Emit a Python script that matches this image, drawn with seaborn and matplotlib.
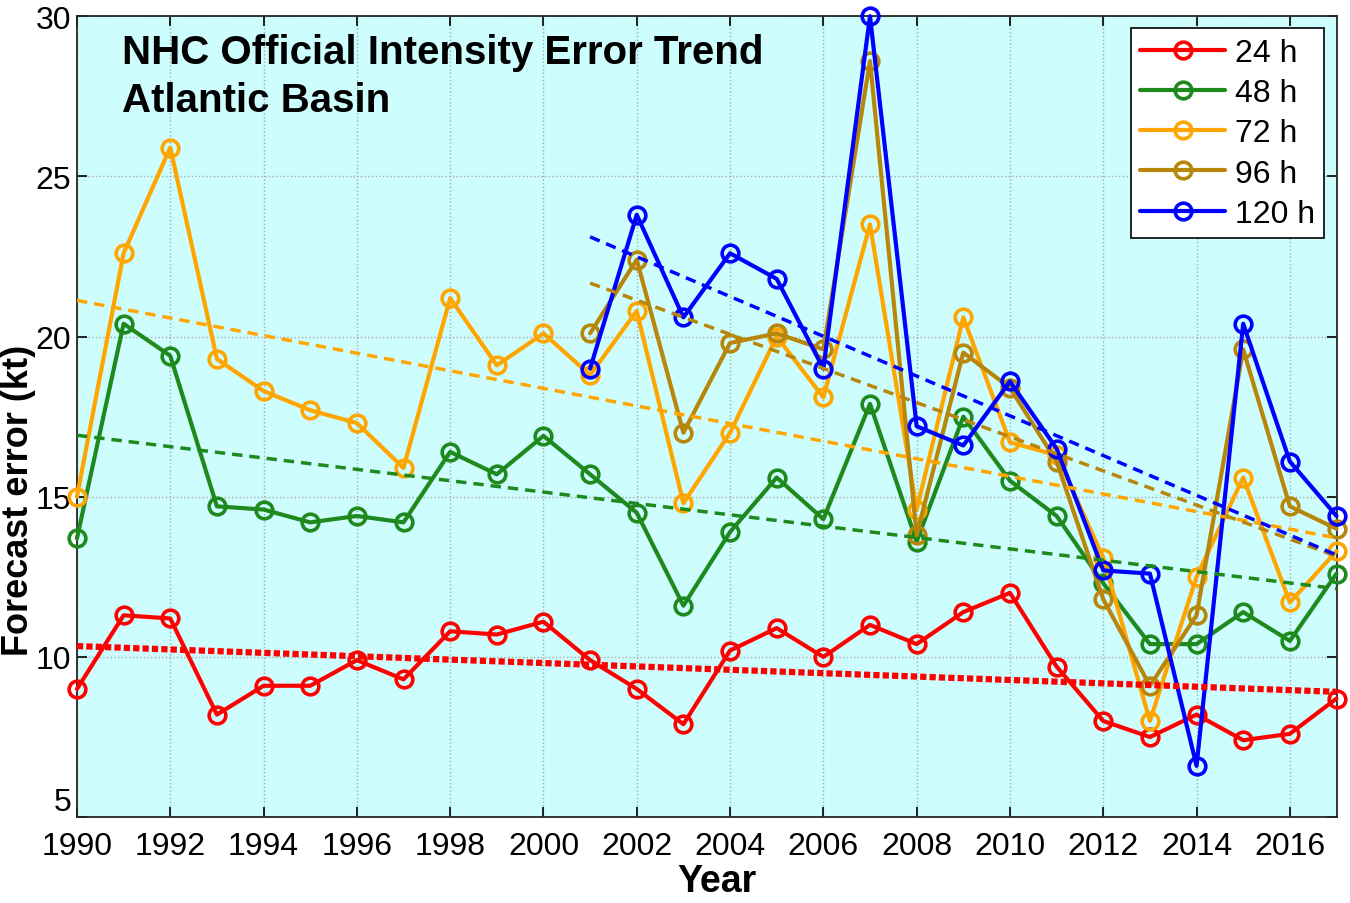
import matplotlib
matplotlib.use("Agg")
import matplotlib.pyplot as plt
import seaborn as sns

# NHC official intensity error (kt), Atlantic basin
years_all = list(range(1990, 2018))
years_late = list(range(2001, 2018))

err_24h = [9.0, 11.3, 11.2, 8.2, 9.1, 9.1, 9.9, 9.3, 10.8, 10.7, 11.1, 9.9, 9.0, 7.9,
           10.2, 10.9, 10.0, 11.0, 10.4, 11.4, 12.0, 9.7, 8.0, 7.5, 8.2, 7.4, 7.6, 8.7]
err_48h = [13.7, 20.4, 19.4, 14.7, 14.6, 14.2, 14.4, 14.2, 16.4, 15.7, 16.9, 15.7, 14.5, 11.6,
           13.9, 15.6, 14.3, 17.9, 13.6, 17.5, 15.5, 14.4, 12.3, 10.4, 10.4, 11.4, 10.5, 12.6]
err_72h = [15.0, 22.6, 25.9, 19.3, 18.3, 17.7, 17.3, 15.9, 21.2, 19.1, 20.1, 18.8, 20.8, 14.8,
           17.0, 20.0, 18.1, 23.5, 14.6, 20.6, 16.7, 16.3, 13.1, 8.0, 12.5, 15.6, 11.7, 13.3]
err_96h = [20.1, 22.4, 17.0, 19.8, 20.1, 19.6, 28.6, 13.8, 19.5, 18.4, 16.1, 11.8, 9.1,
           11.3, 19.6, 14.7, 14.0]
err_120h = [19.0, 23.8, 20.6, 22.6, 21.8, 19.0, 30.0, 17.2, 16.6, 18.6, 16.5, 12.7, 12.6,
            6.6, 20.4, 16.1, 14.4]

labels = ["24 h", "48 h", "72 h", "96 h", "120 h"]
colors = ["#FF0000", "#1E8A1E", "#FFA500", "#B8860B", "#0000FF"]

sns.set_style("ticks")
plt.rcParams["font.family"] = ["Liberation Sans", "DejaVu Sans"]
plt.rcParams["text.color"] = "black"
plt.rcParams["axes.labelcolor"] = "black"
plt.rcParams["xtick.color"] = "black"
plt.rcParams["ytick.color"] = "black"

fig = plt.figure(figsize=(13.5, 9.04), dpi=100)
ax = fig.add_axes([0.057, 0.095, 0.933, 0.886])
ax.set_facecolor("#CEFDFD")

series = [
    (years_all, err_24h),
    (years_all, err_48h),
    (years_all, err_72h),
    (years_late, err_96h),
    (years_late, err_120h),
]

# data lines with open circles
for (yrs, vals), lab, col in zip(series, labels, colors):
    sns.lineplot(x=yrs, y=vals, ax=ax, color=col, lw=3, marker="o", ms=12,
                 mfc="none", mec=col, mew=2.6, label=lab, clip_on=False, zorder=3)

# linear trend lines
for i, ((yrs, vals), col) in enumerate(zip(series, colors)):
    if i == 0:
        kws = dict(lw=4.5, dashes=(1.0, 0.5), zorder=4)
    else:
        kws = dict(lw=2.5, dashes=(3, 2), zorder=4)
    sns.regplot(x=yrs, y=vals, ax=ax, scatter=False, ci=None, color=col,
                truncate=True, line_kws=kws)

ax.set_xlim(1990, 2017)
ax.set_ylim(5, 30)
ax.set_xticks(range(1990, 2017, 2))
ax.set_yticks(range(5, 31, 5))
ax.tick_params(direction="in", top=True, right=True, length=7, width=1.2,
               labelsize=23)
ax.tick_params(axis="x", pad=10)
ax.tick_params(axis="y", pad=4)
# lowest y label sits just above the corner, clear of "1990"
ax.yaxis.get_major_ticks()[0].label1.set_verticalalignment("bottom")
ax.grid(True, ls=":", color="#A8A8A8", lw=1)
for sp in ax.spines.values():
    sp.set_color("#262626")
    sp.set_linewidth(1.3)

ax.set_xlabel("Year", fontsize=27, fontweight="bold")
ax.xaxis.set_label_coords(0.508, -0.057)
ax.set_ylabel("Forecast error (kt)", fontsize=26, fontweight="bold")
ax.yaxis.set_label_coords(-0.0326, 0.397)

ax.text(0.036, 0.979, "NHC Official Intensity Error Trend\nAtlantic Basin",
        transform=ax.transAxes, ha="left", va="top", fontsize=29,
        fontweight="bold", linespacing=1.33, zorder=5)

leg = ax.legend(loc="upper right", fontsize=23, frameon=True, fancybox=False,
                edgecolor="black", framealpha=1, handlelength=2.65,
                handletextpad=0.3, labelspacing=0.32, borderpad=0.3,
                borderaxespad=0.38, numpoints=1)
leg.get_frame().set_linewidth(1.2)

fig.savefig("out.png", dpi=100)
